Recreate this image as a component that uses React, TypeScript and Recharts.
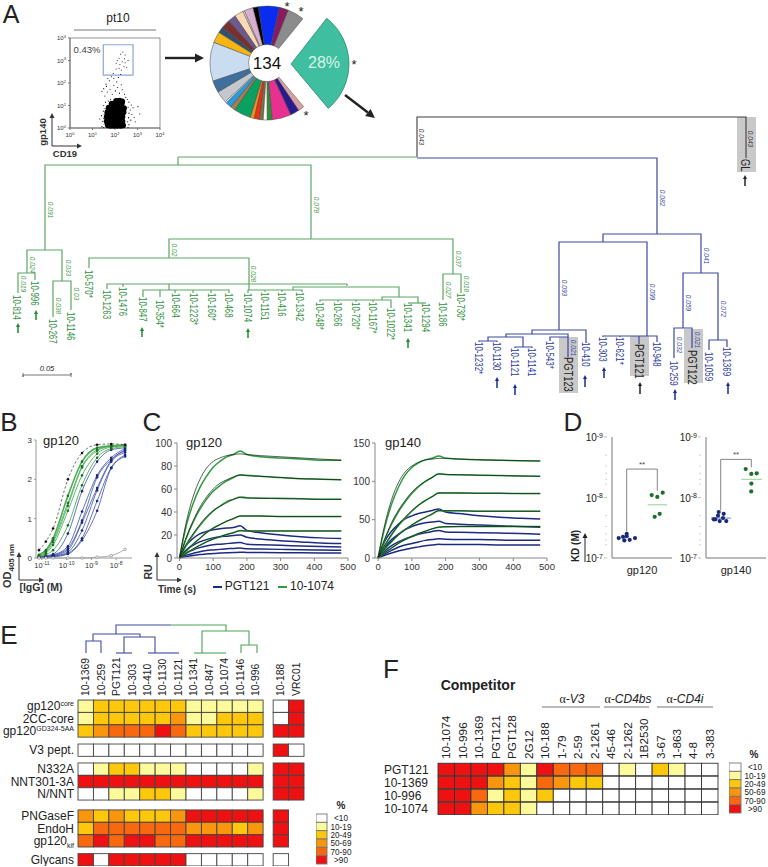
import {
  Cell,
  ComposedChart,
  Line,
  Pie,
  PieChart,
  ReferenceArea,
  Scatter,
  ScatterChart,
  XAxis,
  YAxis,
} from "recharts";

const FONT = "'Liberation Sans', Arial, sans-serif";

// ---------- panel A: flow plot ----------
const flowCore = [
  [1.68, 0.12], [1.8, 0.1], [1.95, 0.1], [2.1, 0.1], [2.25, 0.1], [2.36, 0.12],
  [1.63, 0.3], [1.75, 0.3], [1.9, 0.3], [2.05, 0.3], [2.2, 0.3], [2.33, 0.3],
  [1.63, 0.5], [1.75, 0.5], [1.9, 0.5], [2.05, 0.5], [2.2, 0.5], [2.33, 0.5],
  [1.66, 0.7], [1.8, 0.7], [1.95, 0.7], [2.1, 0.7], [2.25, 0.7], [2.38, 0.7],
  [1.72, 0.9], [1.85, 0.9], [2, 0.9], [2.15, 0.9], [2.3, 0.9], [2.4, 0.88],
  [1.85, 1.08], [2, 1.1], [2.15, 1.1], [2.3, 1.08], [2.05, 1.2], [2.2, 1.22], [2.32, 1.18],
];
const flowFringe = [
  [1.42, 0.06], [1.45, 0.3], [1.4, 0.55], [1.48, 0.75], [1.5, 1.0], [1.58, 1.15], [1.7, 1.2], [1.8, 1.28],
  [2.62, 0.15], [2.7, 0.35], [2.75, 0.6], [2.68, 0.8], [2.72, 1.02], [2.62, 1.15], [2.55, 1.28], [2.48, 1.36],
  [2.85, 0.48], [2.58, 0.02], [1.5, 0.02], [2.8, 0.9], [3.02, 0.95], [3.1, 0.62], [2.9, 0.28], [1.32, 0.4],
  [1.52, 0.18], [1.5, 0.42], [1.52, 0.62], [1.56, 0.86], [2.56, 0.28], [2.6, 0.46], [2.62, 0.66], [2.58, 0.92],
  [1.55, 1.42], [1.66, 1.6], [1.5, 1.75], [1.62, 1.85], [1.78, 1.72], [1.88, 1.5], [1.95, 1.9], [2.02, 1.65],
  [2.12, 1.8], [2.08, 2.05], [1.75, 2.1], [1.68, 2.2], [1.85, 2.28], [2.15, 2.25], [2.2, 1.55], [2.28, 1.92],
  [1.95, 2.2], [2.25, 2.38], [1.92, 2.42], [1.6, 1.95], [1.42, 1.62], [2.32, 1.7], [2.42, 1.5],
];
const flowGated = [
  [2.25, 3.28], [2.18, 3.1], [2.45, 3.25], [2.42, 3.08], [2.32, 2.95], [2.58, 3.0], [2.35, 3.38],
  [2.05, 2.88], [2.22, 2.82], [2.4, 2.72], [2.52, 2.7], [2.18, 2.66], [2.05, 2.62], [2.28, 2.58],
  [2.45, 2.9], [2.1, 3.0],
];
const flowTicks = [0, 1, 2, 3, 4];

// ---------- panel A: clonal pie ----------
const pieSlices = [
  { name: "gray", value: 17, color: "#8c8c8c" },
  { name: "plum", value: 9, color: "#8a1a5e" },
  { name: "blue", value: 21, color: "#0a2cf0" },
  { name: "black", value: 5.5, color: "#000000" },
  { name: "mauve", value: 9, color: "#d8afd0" },
  { name: "white1", value: 1.5, color: "#ffffff" },
  { name: "peach", value: 9, color: "#fbd9b5" },
  { name: "purple", value: 8, color: "#6b5a8f" },
  { name: "maroon", value: 9, color: "#7a3030" },
  { name: "slate", value: 6, color: "#2f5070" },
  { name: "amber", value: 11, color: "#f7b514" },
  { name: "pale blue", value: 39, color: "#c9dcf0" },
  { name: "steel", value: 12, color: "#3f6f9f" },
  { name: "silver", value: 12, color: "#c4c8cc" },
  { name: "white2", value: 1.5, color: "#ffffff" },
  { name: "sky", value: 6, color: "#2a9be0" },
  { name: "tan", value: 5, color: "#a08050" },
  { name: "green", value: 17, color: "#0aa060" },
  { name: "orange", value: 4, color: "#f09020" },
  { name: "vermilion", value: 5, color: "#f03010" },
  { name: "olive", value: 4, color: "#807040" },
  { name: "white3", value: 4, color: "#ffffff" },
  { name: "leaf", value: 5, color: "#2a9030" },
  { name: "pink", value: 19, color: "#e83090" },
  { name: "indigo", value: 9, color: "#2a1a90" },
  { name: "rose", value: 6, color: "#d8a0a0" },
];
const pieMajor = [{ name: "major clone", value: 28 }];

// ---------- panel A: tree ----------
const rootPaths = [[[417, 157], [417, 117], [746, 117], [746, 158]]];
const greenPaths = [
  [[178, 157], [417, 157]],
  [[178, 157], [178, 165]],
  [[45, 250], [45, 165], [311, 165], [311, 239]],
  [[27, 273], [27, 250], [62, 250], [62, 281]],
  [[18, 293], [18, 273], [35, 273], [35, 280]],
  [[53, 317], [53, 281], [71, 281], [71, 310]],
  [[169, 258], [169, 239], [453, 239], [453, 274]],
  [[89, 268], [89, 258], [249, 258], [249, 290]],
  [[107, 289], [107, 284], [347, 284], [347, 286]],
  [[123, 287], [123, 284]],
  [[169, 284], [169, 290]],
  [[143, 297], [143, 290], [229, 290], [229, 293]],
  [[160, 297], [160, 290]],
  [[175, 293], [175, 290]],
  [[193, 293], [193, 290]],
  [[211, 293], [211, 290]],
  [[248, 293], [248, 290], [302, 290], [302, 292]],
  [[265, 292], [265, 290]],
  [[282, 292], [282, 290]],
  [[293, 290], [293, 287], [399, 287], [399, 297]],
  [[382, 300], [382, 297], [418, 297], [418, 303]],
  [[320, 302], [320, 300], [391, 300], [391, 308]],
  [[338, 302], [338, 300]],
  [[356, 302], [356, 300]],
  [[373, 302], [373, 300]],
  [[408, 303], [426, 303]],
  [[443, 300], [443, 274], [461, 274], [461, 293]],
];
const bluePaths = [
  [[417, 158], [657, 158], [657, 234]],
  [[603, 242], [603, 234], [701, 234], [701, 273]],
  [[559, 330], [559, 242], [647, 242], [647, 336]],
  [[532, 334], [532, 330], [586, 330], [586, 343]],
  [[506, 337], [506, 334], [568, 334], [568, 337]],
  [[488, 341], [488, 337], [523, 337], [523, 347]],
  [[479, 342], [479, 341], [497, 341], [497, 342]],
  [[515, 348], [515, 347], [532, 347], [532, 348]],
  [[550, 341], [550, 337], [568, 337], [568, 357]],
  [[603, 337], [603, 336], [657, 336], [657, 342]],
  [[620, 337], [620, 336]],
  [[639, 344], [639, 336]],
  [[683, 328], [683, 273], [718, 273], [718, 340]],
  [[674, 358], [674, 328], [692, 328], [692, 348]],
  [[709, 350], [709, 340], [727, 340], [727, 347]],
];
// the small tree above the panel E heat map
const heatBluePaths = [
  [[171, 625], [116, 625], [116, 634]],
  [[93, 641], [93, 634], [140, 634], [140, 637]],
  [[86, 653], [86, 641], [101, 641], [101, 653]],
  [[124, 653], [124, 637], [155, 637], [155, 653]],
  [[116, 653], [132, 653]],
  [[148, 653], [179, 653]],
];
const heatGreenPaths = [
  [[171, 625], [226, 625], [226, 631]],
  [[202, 653], [202, 631], [249, 631], [249, 645]],
  [[194, 653], [226, 653]],
  [[241, 653], [241, 645], [257, 645], [257, 653]],
];
const ruleLines = [
  [[74, 30], [156, 30]],
  [[23, 373], [23, 377], [23, 375], [71, 375], [71, 373], [71, 377]],
  [[542, 707], [600, 707]],
  [[604, 707], [649, 707]],
  [[657, 707], [713, 707]],
];
const treeBoxes = [
  { x1: 737, x2: 756, y1: 117, y2: 172 },
  { x1: 559, x2: 578, y1: 337, y2: 393 },
  { x1: 630, x2: 649, y1: 336, y2: 376 },
  { x1: 684, x2: 703, y1: 329, y2: 383 },
];
const greenTips = [
  { x: 17, y: 295, t: "10-814" }, { x: 35, y: 281, t: "10-996" }, { x: 53, y: 319, t: "10-267" },
  { x: 71, y: 312, t: "10-1146" }, { x: 89, y: 270, t: "10-570*" }, { x: 107, y: 290, t: "10-1263" },
  { x: 123, y: 287, t: "10-1476" }, { x: 143, y: 297, t: "10-847" }, { x: 160, y: 300, t: "10-354*" },
  { x: 176, y: 293, t: "10-664" }, { x: 194, y: 293, t: "10-1223*" }, { x: 212, y: 293, t: "10-160*" },
  { x: 229, y: 293, t: "10-468" }, { x: 248, y: 293, t: "10-1074" }, { x: 265, y: 292, t: "10-1151" },
  { x: 282, y: 292, t: "10-416" }, { x: 300, y: 292, t: "10-1342" }, { x: 320, y: 302, t: "10-248*" },
  { x: 338, y: 302, t: "10-266" }, { x: 356, y: 302, t: "10-720*" }, { x: 373, y: 302, t: "10-1167*" },
  { x: 391, y: 308, t: "10-1022*" }, { x: 408, y: 303, t: "10-1341" }, { x: 426, y: 303, t: "10-1294" },
  { x: 443, y: 302, t: "10-186" }, { x: 461, y: 293, t: "10-730*" },
];
const blueTips = [
  { x: 479, y: 342, t: "10-1232*" }, { x: 497, y: 342, t: "10-1130" }, { x: 515, y: 348, t: "10-1121" },
  { x: 532, y: 348, t: "10-1141" }, { x: 550, y: 341, t: "10-543*" }, { x: 586, y: 342, t: "10-410" },
  { x: 603, y: 337, t: "10-303" }, { x: 620, y: 337, t: "10-621*" }, { x: 657, y: 342, t: "10-948" },
  { x: 674, y: 361, t: "10-259" }, { x: 709, y: 352, t: "10-1059" }, { x: 727, y: 347, t: "10-1369" },
];
const refTips = [
  { x: 568, y: 357, t: "PGT123" }, { x: 639, y: 344, t: "PGT121" }, { x: 692, y: 350, t: "PGT122" },
  { x: 745, y: 159, t: "GL" },
];
const greenBranchLabels = [
  { x: 50, y: 210, t: "0.091" }, { x: 316, y: 205, t: "0.078" }, { x: 32, y: 265, t: "0.024" },
  { x: 23, y: 284, t: "0.019" }, { x: 68, y: 268, t: "0.033" }, { x: 58, y: 306, t: "0.038" },
  { x: 76, y: 294, t: "0.03" }, { x: 174, y: 250, t: "0.02" }, { x: 253, y: 274, t: "0.028" },
  { x: 458, y: 259, t: "0.037" }, { x: 448, y: 290, t: "0.027" }, { x: 466, y: 284, t: "0.018" },
];
const blueBranchLabels = [
  { x: 662, y: 198, t: "0.082" }, { x: 706, y: 256, t: "0.041" }, { x: 564, y: 288, t: "0.093" },
  { x: 652, y: 292, t: "0.099" }, { x: 688, y: 303, t: "0.059" }, { x: 723, y: 309, t: "0.072" },
  { x: 679, y: 345, t: "0.032" }, { x: 697, y: 340, t: "0.021" }, { x: 573, y: 348, t: "0.021" },
];
const blackBranchLabels = [
  { x: 421, y: 137, t: "0.043" }, { x: 750, y: 139, t: "0.043" },
];
const arrows = [
  { x: 204, y: 58, dx: -39, dy: 0, c: "#222", w: 2.4, h: 9 },
  { x: 375, y: 118, dx: -30, dy: -23, c: "#222", w: 2.4, h: 9 },
  { x: 52, y: 113, dx: 0, dy: 33, c: "#333", w: 1, h: 5 },
  { x: 82, y: 146, dx: -30, dy: 0, c: "#333", w: 1, h: 5 },
  { x: 19, y: 552, dx: 0, dy: 28, c: "#333", w: 1, h: 5 },
  { x: 44, y: 580, dx: -25, dy: 0, c: "#333", w: 1, h: 5 },
  { x: 157, y: 552, dx: 0, dy: 28, c: "#333", w: 1, h: 5 },
  { x: 182, y: 580, dx: -25, dy: 0, c: "#333", w: 1, h: 5 },
  { x: 585, y: 533, dx: 0, dy: 29, c: "#222", w: 1, h: 5 },
  { x: 18, y: 323, dx: 0, dy: 10, c: "#1f8a30", w: 1.5, h: 4 },
  { x: 36, y: 310, dx: 0, dy: 10, c: "#1f8a30", w: 1.5, h: 4 },
  { x: 142, y: 327, dx: 0, dy: 10, c: "#1f8a30", w: 1.5, h: 4 },
  { x: 248, y: 328, dx: 0, dy: 10, c: "#1f8a30", w: 1.5, h: 4 },
  { x: 408, y: 338, dx: 0, dy: 10, c: "#1f8a30", w: 1.5, h: 4 },
  { x: 497, y: 377, dx: 0, dy: 11, c: "#1a2a8a", w: 1.5, h: 4 },
  { x: 515, y: 384, dx: 0, dy: 11, c: "#1a2a8a", w: 1.5, h: 4 },
  { x: 585, y: 375, dx: 0, dy: 12, c: "#1a2a8a", w: 1.5, h: 4 },
  { x: 604, y: 367, dx: 0, dy: 11, c: "#1a2a8a", w: 1.5, h: 4 },
  { x: 640, y: 382, dx: 0, dy: 12, c: "#222", w: 1.5, h: 4 },
  { x: 675, y: 389, dx: 0, dy: 11, c: "#1a2a8a", w: 1.5, h: 4 },
  { x: 728, y: 382, dx: 0, dy: 12, c: "#1a2a8a", w: 1.5, h: 4 },
  { x: 745, y: 175, dx: 0, dy: 11, c: "#222", w: 1.5, h: 4 },
];

// ---------- panel B: ELISA ----------
const elisaConc = [-11.12, -10.84, -10.55, -9.95, -9.38, -8.77, -8.2, -7.64];
const elisaBlack = [0.2, 0.42, 0.75, 2.0, 2.67, 2.88, 2.9, 2.88];
const elisaGreen = [
  [0.08, 0.2, 0.5, 1.58, 2.45, 2.8, 2.85, 2.87],
  [0.07, 0.18, 0.45, 1.4, 2.33, 2.75, 2.85, 2.87],
  [0.06, 0.15, 0.4, 1.33, 2.3, 2.72, 2.84, 2.86],
  [0.05, 0.12, 0.33, 1.2, 2.1, 2.65, 2.82, 2.85],
  [0.04, 0.09, 0.2, 0.83, 1.85, 2.55, 2.78, 2.83],
];
const elisaBlue = [
  [0.03, 0.06, 0.1, 0.62, 1.7, 2.45, 2.75, 2.8],
  [0.02, 0.04, 0.08, 0.3, 1.18, 2.1, 2.55, 2.78],
  [0.02, 0.04, 0.07, 0.25, 0.95, 2.05, 2.5, 2.75],
  [0.02, 0.03, 0.06, 0.2, 0.9, 1.78, 2.48, 2.72],
  [0.01, 0.03, 0.05, 0.15, 0.7, 1.72, 2.45, 2.68],
  [0.01, 0.02, 0.04, 0.12, 0.5, 1.45, 2.3, 2.62],
  [0.01, 0.02, 0.03, 0.1, 0.45, 1.2, 2.28, 2.58],
];
const elisaGray = [0, 0, 0, 0, 0, 0.02, 0.06, 0.22];

// ---------- panel C: sensorgrams ----------
const times = [0, 20, 40, 60, 80, 100, 120, 140, 160, 180, 200, 240, 300, 360, 420, 480];
const gp120Blue = [
  [0, 11, 17, 21, 23, 24.5, 25.5, 26, 26.5, 28, 24, 22, 20, 18.5, 17.5, 17],
  [0, 7, 11, 14, 16, 17.5, 18.5, 19, 19.5, 20, 18, 16.5, 15, 14, 13, 12.5],
  [0, 4.5, 7, 9, 10.5, 11.5, 12, 12.5, 13, 13.5, 12, 11.5, 11, 10.5, 10, 9.5],
  [0, 2.5, 4, 5.5, 6.5, 7, 7.5, 8, 8.3, 8.7, 8, 7.8, 7.5, 7.2, 7, 6.7],
  [0, 1.2, 2.2, 3, 3.5, 4, 4.3, 4.6, 4.8, 5, 4.8, 4.7, 4.6, 4.5, 4.4, 4.3],
];
const gp120Green = [
  [0, 28, 47, 61, 71, 79, 84, 88, 90, 93, 90, 88, 87, 86, 85, 85],
  [0, 17, 31, 42, 51, 58, 63, 67, 70, 72.5, 72, 71, 70, 69, 68.5, 68],
  [0, 11, 20, 28, 35, 41, 45, 49, 51, 53, 52.5, 52, 52, 51.5, 51, 51],
  [0, 6, 12, 17, 22, 26, 29, 32, 34, 36.5, 36.5, 36.5, 36, 36, 36, 36],
  [0, 4, 7.5, 11, 14, 16.5, 18.5, 20.5, 22, 24, 23.5, 23.5, 23.5, 23.5, 23.5, 23.5],
];
const gp120Fit = [
  [0, 31, 53, 68, 78, 84, 87, 89, 90, 90.5, 90, 89, 88, 87, 86, 85],
  [0, 18, 32, 44, 53, 60, 65, 68, 70.5, 72, 71.5, 71, 70, 69, 68.5, 68],
  [0, 12, 21, 29, 36, 41, 45, 48, 51, 52.5, 52, 52, 51.5, 51.5, 51, 51],
  [0, 6.5, 12, 17, 22, 26, 29, 32, 34.5, 36.5, 36.5, 36.5, 36, 36, 36, 36],
  [0, 4, 8, 11, 14, 16.5, 18.5, 20.5, 22, 23.5, 23.5, 23.5, 23.5, 23.5, 23.5, 23.5],
];
const gp140Blue = [
  [0, 22, 35, 44, 51, 55, 58, 60, 62, 64, 60, 58, 55, 53, 52, 51],
  [0, 14, 24, 31, 37, 41, 44, 46, 47, 48, 45, 44, 43, 42, 41, 40],
  [0, 9, 16, 21, 25, 28, 31, 33, 34.5, 36, 34, 33.5, 33, 32.5, 32, 31],
  [0, 5.5, 10, 14, 17, 19, 21, 23, 24, 25, 24.5, 24, 24, 23.5, 23, 23],
  [0, 3.5, 6.5, 9, 11, 13, 14.5, 16, 17, 18, 17.5, 17.5, 17.5, 17, 17, 17],
];
const gp140Green = [
  [0, 40, 70, 92, 108, 118, 124, 128, 130, 133, 130, 129, 128, 127.5, 127, 126.5],
  [0, 24, 44, 60, 73, 84, 93, 100, 105, 110, 109, 108.5, 108, 107.5, 107, 106.5],
  [0, 16, 30, 42, 52, 61, 69, 75, 80, 85, 85, 85, 84.5, 84.5, 84, 84],
  [0, 12, 21, 30, 37, 43, 48, 53, 57, 62, 61.5, 61.5, 61, 61, 61, 61],
  [0, 7, 13, 19, 24, 28, 32, 35, 38, 40, 40.5, 41, 41, 41, 41, 41],
];
const gp140Fit = [
  [0, 44, 76, 98, 112, 120, 125, 128, 129, 130, 130, 129, 128, 127.5, 127, 126.5],
  [0, 25, 46, 62, 75, 86, 94, 100, 105, 109.5, 109, 108.5, 108, 107.5, 107, 106.5],
  [0, 17, 31, 43, 53, 62, 69, 75, 80, 84.5, 84.5, 84.5, 84.5, 84.5, 84, 84],
  [0, 12, 22, 30, 37, 43, 49, 53, 58, 61.5, 61.5, 61.5, 61, 61, 61, 61],
  [0, 7, 13, 19, 24, 28, 32, 35, 38, 40.5, 41, 41, 41, 41, 41, 41],
];

// ---------- panel D: KD ----------
const kdMinor = [-8.7, -8.52, -8.4, -8.3, -8.22, -7.7, -7.52, -7.4, -7.3, -7.22];
const kd120Blue = [
  { x: 6.7, y: -7.33 }, { x: 11, y: -7.35 }, { x: 14.7, y: -7.4 }, { x: 14.7, y: -7.36 },
  { x: 17.7, y: -7.3 }, { x: 23, y: -7.33 }, { x: 12.3, y: -7.29 },
];
const kd120Green = [
  { x: 39.7, y: -8.04 }, { x: 45.3, y: -8.01 }, { x: 50.7, y: -8.08 }, { x: 42.7, y: -7.68 }, { x: 47.7, y: -7.73 },
];
const kd120GreenMean = [{ x: 35.7, y: -7.88 }, { x: 55, y: -7.88 }];
const kd120Bracket = [{ x: 14.7, y: -7.44 }, { x: 14.7, y: -8.47 }, { x: 45.3, y: -8.47 }, { x: 45.3, y: -8.11 }];
const kd140Blue = [
  { x: 7.7, y: -7.64 }, { x: 9.3, y: -7.64 }, { x: 12, y: -7.7 }, { x: 12.7, y: -7.76 },
  { x: 17.7, y: -7.73 }, { x: 13.7, y: -7.61 }, { x: 17, y: -7.66 }, { x: 20.3, y: -7.61 },
];
const kd140Green = [
  { x: 39.7, y: -8.47 }, { x: 45.3, y: -8.39 }, { x: 50.7, y: -8.4 }, { x: 45.4, y: -8.23 }, { x: 45.2, y: -8.1 },
];
const kd140GreenMean = [{ x: 35.3, y: -8.3 }, { x: 56, y: -8.3 }];
const kd140BlueMean = [{ x: 5, y: -7.66 }, { x: 25, y: -7.66 }];
const kd140Bracket = [{ x: 14.7, y: -7.79 }, { x: 14.7, y: -8.63 }, { x: 45.3, y: -8.63 }, { x: 45.3, y: -8.5 }];

// ---------- panels E, F: heat maps ----------
const levelColors = ["#ffffff", "#fdfa9c", "#fdc70c", "#f9960e", "#f8680e", "#ee1111"];
const levelNames = ["<10", "10-19", "20-49", "50-69", "70-90", ">90"];

const heatColumns = ["10-1369", "10-259", "PGT121", "10-303", "10-410", "10-1130", "10-1121", "10-1341", "10-847", "10-1074", "10-1146", "10-996", "10-188", "VRC01"];
const heatColumnStart = [0, 1, 2, 3, 4, 5, 6, 7, 8, 9, 10, 11, 12.65, 13.65];
const heatRowTop = [0, 1, 2, 3.55, 5.08, 6.08, 7.08, 8.87, 9.87, 10.87, 12.4];
const heatRows = ["gp120core", "2CC-core", "gp120GD", "V3 pept.", "N332A", "NNT301-3A", "N/NNT", "PNGaseF", "EndoH", "gp120kif", "Glycans"];
const heatValues = [
  [1, 2, 2, 2, 2, 2, 2, 1, 1, 1, 1, 1, 0, 5],
  [1, 2, 2, 2, 2, 2, 3, 1, 1, 2, 2, 2, 0, 5],
  [2, 3, 4, 4, 4, 5, 4, 2, 2, 2, 2, 2, 5, 5],
  [0, 0, 0, 0, 0, 0, 0, 0, 0, 0, 0, 0, 5, 0],
  [0, 1, 2, 2, 1, 1, 1, 0, 0, 0, 0, 1, 5, 5],
  [5, 5, 5, 5, 5, 5, 5, 5, 5, 5, 5, 5, 5, 5],
  [0, 0, 1, 1, 2, 2, 1, 0, 0, 0, 0, 1, 5, 5],
  [3, 2, 3, 2, 2, 2, 3, 5, 5, 5, 5, 5, 5, -1],
  [2, 4, 4, 4, 4, 4, 4, 3, 3, 3, 2, 3, 5, -1],
  [4, 5, 4, 5, 5, 4, 4, 5, 5, 5, 5, 5, 5, -1],
  [5, 0, 5, 5, 5, 5, 5, 0, 0, 0, 0, 0, 0, -1],
];
const compColumns = ["10-1074", "10-996", "10-1369", "PGT121", "PGT128", "2G12", "10-188", "1-79", "2-59", "2-1261", "45-46", "2-1262", "1B2530", "3-67", "1-863", "4-8", "3-383"];
const compRows = ["PGT121", "10-1369", "10-996", "10-1074"];
const compValues = [
  [5, 5, 5, 5, 3, 1, 5, 4, 4, 4, 0, 1, 0, 2, 1, 0, 0],
  [5, 5, 5, 3, 2, 1, 4, 3, 2, 2, 0, 0, 0, 0, 0, 0, 0],
  [5, 5, 4, 1, 2, 1, 2, 0, 0, 0, 0, 0, 0, 0, 0, 0, 0],
  [5, 5, 3, 2, 2, 1, 0, 0, 0, 0, 0, 0, 0, 0, 0, 0, 0],
];

const tableFrom = (xs: number[], prefix: string, rows: number[][]) =>
  xs.map((x, i) => {
    const row: Record<string, number> = { x };
    rows.forEach((r, k) => (row[`${prefix}${k}`] = r[i]));
    return row;
  });

const mergeRows = (...tables: Record<string, number>[][]) =>
  tables[0].map((_, i) => Object.assign({}, ...tables.map((t) => t[i])));

const pts = (p: number[][]) => p.map(([x, y]) => ({ x, y }));

function Txt({ x, y, size = 12, rot = 0, bold, italic, color = "#222", children }: any) {
  return (
    <div
      style={{
        position: "absolute",
        left: x,
        top: y,
        transform: `translate(-50%, -50%) rotate(${rot}deg)`,
        fontFamily: FONT,
        fontSize: size,
        lineHeight: 1,
        whiteSpace: "nowrap",
        fontWeight: bold ? 700 : 400,
        fontStyle: italic ? "italic" : "normal",
        color,
      }}
    >
      {children}
    </div>
  );
}

const noDot = () => <g />;

const PowerTick = ({ x, y, payload, size, anchor, axis }: any) => {
  const isY = axis === "y";
  return (
    <text
      x={x}
      y={isY ? y + size * 0.35 : y + size * 0.8}
      textAnchor={anchor}
      fontFamily={FONT}
      fontSize={size}
      fill="#333"
    >
      10
      <tspan dy={-size * 0.35} fontSize={size * 0.68}>
        {payload.value}
      </tspan>
    </text>
  );
};

function TipLabel({ cx, cy, payload, fill, size, squeeze }: any) {
  return (
    <text
      transform={`translate(${cx},${cy}) rotate(90) scale(${squeeze},1)`}
      dominantBaseline="central"
      fontFamily={FONT}
      fontSize={size}
      fill={fill}
    >
      {payload.t}
    </text>
  );
}

function BranchLabel({ cx, cy, payload, fill }: any) {
  return (
    <text
      transform={`translate(${cx},${cy}) rotate(90)`}
      textAnchor="middle"
      dominantBaseline="central"
      fontFamily={FONT}
      fontStyle="italic"
      fontSize={6.6}
      fill={fill}
    >
      {payload.t}
    </text>
  );
}

function ArrowMark({ cx, cy, payload }: any) {
  const { dx, dy, c, w, h } = payload;
  const len = Math.hypot(dx, dy);
  const ux = dx / len;
  const uy = dy / len;
  const bx = cx + ux * h;
  const by = cy + uy * h;
  const hw = h * 0.5;
  return (
    <g>
      <line x1={bx} y1={by} x2={cx + dx} y2={cy + dy} stroke={c} strokeWidth={w} />
      <polygon points={`${cx},${cy} ${bx - uy * hw},${by + ux * hw} ${bx + uy * hw},${by - ux * hw}`} fill={c} />
    </g>
  );
}

function Overlay() {
  const paths = (list: number[][][], stroke: string, width: number, key: string) =>
    list.map((p, i) => (
      <Scatter
        key={key + i}
        data={pts(p)}
        line={{ stroke, strokeWidth: width }}
        shape={noDot}
        isAnimationActive={false}
        legendType="none"
      />
    ));
  return (
    <div style={{ position: "absolute", left: 0, top: 0 }}>
      <ScatterChart width={768} height={867} margin={{ top: 0, right: 0, bottom: 0, left: 0 }}>
        <XAxis type="number" dataKey="x" domain={[0, 768]} hide />
        <YAxis type="number" dataKey="y" domain={[0, 867]} reversed hide />
        {treeBoxes.map((b, i) => (
          <ReferenceArea key={i} {...b} fill="#c9c9c9" fillOpacity={1} stroke="none" />
        ))}
        {paths(rootPaths, "#3c3c48", 1.1, "root")}
        {paths(greenPaths, "#5da566", 1.2, "green")}
        {paths(bluePaths, "#3d4a9e", 1.2, "blue")}
        {paths(heatBluePaths, "#3d4a9e", 1.1, "hb")}
        {paths(heatGreenPaths, "#4ea45a", 1.1, "hg")}
        {paths(ruleLines, "#666666", 0.9, "rule")}
        <Scatter data={greenTips} shape={<TipLabel fill="#2f8f3c" size={11} squeeze={0.72} />} isAnimationActive={false} />
        <Scatter data={blueTips} shape={<TipLabel fill="#2b3a9a" size={11} squeeze={0.72} />} isAnimationActive={false} />
        <Scatter data={refTips} shape={<TipLabel fill="#222222" size={12} squeeze={0.78} />} isAnimationActive={false} />
        <Scatter data={greenBranchLabels} shape={<BranchLabel fill="#3f9a4c" />} isAnimationActive={false} />
        <Scatter data={blueBranchLabels} shape={<BranchLabel fill="#3d4a9e" />} isAnimationActive={false} />
        <Scatter data={blackBranchLabels} shape={<BranchLabel fill="#333333" />} isAnimationActive={false} />
        <Scatter data={arrows} shape={<ArrowMark />} isAnimationActive={false} />
      </ScatterChart>
    </div>
  );
}

function FlowPlot() {
  const dot = (r: number) => (p: any) => <circle cx={p.cx} cy={p.cy} r={r} fill="#000" />;
  return (
    <div style={{ position: "absolute", left: 50, top: 30 }}>
      <ScatterChart width={122} height={112} margin={{ top: 8, right: 12, bottom: 0, left: 0 }}>
        <XAxis
          type="number"
          dataKey="x"
          domain={[0, 4]}
          ticks={flowTicks}
          height={14}
          stroke="#777"
          tickSize={2}
          interval={0}
          tick={<PowerTick size={6} anchor="middle" />}
        />
        <YAxis
          type="number"
          dataKey="y"
          domain={[0, 4]}
          ticks={flowTicks}
          width={20}
          stroke="#777"
          tickSize={2}
          interval={0}
          tick={<PowerTick size={6} anchor="end" axis="y" />}
        />
        <ReferenceArea x1={0} x2={4} y1={0} y2={4} fill="none" stroke="#777" strokeWidth={0.8} />
        <ReferenceArea x1={1.48} x2={2.8} y1={2.35} y2={3.7} fill="none" stroke="#8fa6d4" strokeWidth={1.2} />
        <Scatter data={pts(flowCore)} shape={dot(2.9)} isAnimationActive={false} />
        <Scatter data={pts(flowFringe)} shape={dot(0.55)} isAnimationActive={false} />
        <Scatter data={pts(flowGated)} shape={dot(0.5)} isAnimationActive={false} />
      </ScatterChart>
    </div>
  );
}

function ClonePie() {
  return (
    <div style={{ position: "absolute", left: 200, top: 0 }}>
      <PieChart width={170} height={130} margin={{ top: 0, right: 0, bottom: 0, left: 0 }}>
        <Pie
          data={pieSlices}
          dataKey="value"
          cx={67}
          cy={63}
          innerRadius={18.5}
          outerRadius={57}
          startAngle={51}
          endAngle={310}
          stroke="#444"
          strokeWidth={0.5}
          isAnimationActive={false}
        >
          {pieSlices.map((s) => (
            <Cell key={s.name} fill={s.color} />
          ))}
        </Pie>
        <Pie
          data={pieMajor}
          dataKey="value"
          cx={91}
          cy={64}
          innerRadius={0}
          outerRadius={58}
          startAngle={-50}
          endAngle={52}
          stroke="#2a7a68"
          strokeWidth={0.7}
          fill="#3fbf9f"
          isAnimationActive={false}
        />
      </PieChart>
    </div>
  );
}

function ElisaChart() {
  const data = mergeRows(
    tableFrom(elisaConc, "g", elisaGreen),
    tableFrom(elisaConc, "b", elisaBlue),
    tableFrom(elisaConc, "k", [elisaBlack]),
    tableFrom(elisaConc, "o", [elisaGray])
  );
  const dots = (fill: string, r = 1.3) => ({ r, fill, stroke: "none" });
  return (
    <div style={{ position: "absolute", left: 0, top: 434 }}>
      <ComposedChart width={142} height={142} data={data} margin={{ top: 6, right: 10, bottom: 0, left: 0 }}>
        <XAxis
          type="number"
          dataKey="x"
          domain={[-11.24, -7.36]}
          ticks={[-11, -10, -9, -8]}
          height={18}
          stroke="#999"
          tickSize={2}
          interval={0}
          tick={<PowerTick size={7.5} anchor="middle" />}
        />
        <YAxis
          type="number"
          domain={[0, 3]}
          ticks={[0, 1, 2, 3]}
          width={36}
          stroke="#999"
          tickSize={2}
          interval={0}
          tick={{ fontSize: 8, fill: "#333", fontFamily: FONT }}
        />
        {elisaBlue.map((_, i) => (
          <Line key={i} dataKey={`b${i}`} type="monotone" stroke="#3d4fa8" strokeWidth={0.8} dot={dots("#1a2a7a")} isAnimationActive={false} />
        ))}
        {elisaGreen.map((_, i) => (
          <Line key={i} dataKey={`g${i}`} type="monotone" stroke="#4fae5a" strokeWidth={i === 0 ? 1.6 : 0.9} dot={dots("#1f6e2a")} isAnimationActive={false} />
        ))}
        <Line dataKey="k0" type="monotone" stroke="#333" strokeWidth={0.7} strokeDasharray="2.5 2" dot={dots("#111")} isAnimationActive={false} />
        <Line dataKey="o0" type="monotone" stroke="#888" strokeWidth={0.7} dot={{ r: 1.3, fill: "#fff", stroke: "#777", strokeWidth: 0.6 }} isAnimationActive={false} />
      </ComposedChart>
    </div>
  );
}

function SensorChart({ left, plotLeft, width, xMin, yMax, yTicks, blue, green, fit }: any) {
  const data = mergeRows(tableFrom(times, "b", blue), tableFrom(times, "g", green), tableFrom(times, "f", fit));
  return (
    <div style={{ position: "absolute", left, top: 435 }}>
      <ComposedChart width={width + 12} height={139} data={data} margin={{ top: 8, right: 12, bottom: 0, left: 0 }}>
        <XAxis
          type="number"
          dataKey="x"
          domain={[xMin, 500]}
          ticks={[0, 100, 200, 300, 400, 500]}
          height={16}
          stroke="#888"
          tickSize={3}
          interval={0}
          tick={{ fontSize: 9.5, fill: "#333", fontFamily: FONT }}
        />
        <YAxis
          type="number"
          domain={[0, yMax]}
          ticks={yTicks}
          width={plotLeft}
          stroke="#888"
          tickSize={3}
          interval={0}
          tick={{ fontSize: 10, fill: "#333", fontFamily: FONT }}
        />
        {blue.map((_: any, i: number) => (
          <Line key={i} dataKey={`b${i}`} type="monotone" stroke="#1c2a80" strokeWidth={1.5} dot={false} isAnimationActive={false} />
        ))}
        {green.map((_: any, i: number) => (
          <Line key={i} dataKey={`g${i}`} type="monotone" stroke="#2e9a3e" strokeWidth={1.5} dot={false} isAnimationActive={false} />
        ))}
        {fit.map((_: any, i: number) => (
          <Line key={i} dataKey={`f${i}`} type="monotone" stroke="#0e1a14" strokeWidth={0.7} dot={false} isAnimationActive={false} />
        ))}
      </ComposedChart>
    </div>
  );
}

const KdTick = ({ x, y, payload }: any) => {
  const major = Number.isInteger(payload.value);
  return (
    <g>
      <line x1={x + 3} x2={x + 3 - (major ? 3 : 1.5)} y1={y} y2={y} stroke="#999" strokeWidth={0.6} />
      {major && (
        <text x={x - 1} y={y + 4} textAnchor="end" fontFamily={FONT} fontSize={10} fill="#222">
          10
          <tspan dy={-3.5} fontSize={7}>
            {payload.value}
          </tspan>
        </text>
      )}
    </g>
  );
};

function KdChart({ left, name, blue, green, means, bracket }: any) {
  const dot = (fill: string) => (p: any) => <circle cx={p.cx} cy={p.cy} r={2.1} fill={fill} />;
  return (
    <div style={{ position: "absolute", left, top: 429 }}>
      <ScatterChart width={87} height={149} margin={{ top: 8, right: 0, bottom: 0, left: 0 }}>
        <XAxis
          type="number"
          dataKey="x"
          domain={[0, 60]}
          ticks={[30]}
          height={20}
          stroke="#777"
          tickLine={false}
          tickFormatter={() => name}
          tick={{ fontSize: 11, fill: "#222", fontFamily: FONT }}
        />
        <YAxis
          type="number"
          dataKey="y"
          domain={[-9, -7]}
          reversed
          ticks={[-9, -8, -7, ...kdMinor]}
          width={27}
          stroke="#777"
          tickLine={false}
          interval={0}
          tick={<KdTick />}
        />
        <Scatter data={bracket} line={{ stroke: "#777", strokeWidth: 0.9 }} shape={noDot} isAnimationActive={false} />
        {means.map((m: any, i: number) => (
          <Scatter key={i} data={m.data} line={{ stroke: m.color, strokeWidth: 1.2 }} shape={noDot} isAnimationActive={false} />
        ))}
        <Scatter data={blue} shape={dot("#1a2a7a")} isAnimationActive={false} />
        <Scatter data={green} shape={dot("#1f6e2a")} isAnimationActive={false} />
      </ScatterChart>
    </div>
  );
}

function HeatCell({ cx, cy, payload, w, h, stroke }: any) {
  return (
    <rect
      x={cx - w / 2}
      y={cy - h / 2}
      width={w}
      height={h}
      fill={levelColors[payload.level]}
      stroke={stroke}
      strokeWidth={0.9}
    />
  );
}

const heatRowLabel = (name: string) => {
  if (name === "gp120core") return <>gp120<tspan dy={-4} fontSize={7}>core</tspan></>;
  if (name === "gp120GD") return <>gp120<tspan dy={-4} fontSize={7}>GD324-5AA</tspan></>;
  if (name === "gp120kif") return <>gp120<tspan dy={3} fontSize={7}>kif</tspan></>;
  return name;
};

function EpitopeHeat() {
  const cells = heatValues.flatMap((row, r) =>
    row.flatMap((level, c) =>
      level < 0 ? [] : [{ x: heatColumnStart[c] + 0.5, y: heatRowTop[r] + 0.5, level }]
    )
  );
  const colTicks = heatColumnStart.map((s) => s + 0.5);
  const rowTicks = heatRowTop.map((s) => s + 0.5);
  return (
    <div style={{ position: "absolute", left: 0, top: 654 }}>
      <ScatterChart width={306} height={212} margin={{ top: 0, right: 2, bottom: 0, left: 0 }}>
        <XAxis
          type="number"
          dataKey="x"
          orientation="top"
          domain={[0, 14.65]}
          ticks={colTicks}
          height={46}
          axisLine={false}
          tickLine={false}
          interval={0}
          tick={({ x, payload }: any) => (
            <text
              transform={`translate(${x + 3.6},42) rotate(-90)`}
              fontFamily={FONT}
              fontSize={10.4}
              fill="#222"
            >
              {heatColumns[colTicks.indexOf(payload.value)]}
            </text>
          )}
        />
        <YAxis
          type="number"
          dataKey="y"
          domain={[0, 13.4]}
          reversed
          ticks={rowTicks}
          width={78}
          axisLine={false}
          tickLine={false}
          interval={0}
          tick={({ y, payload }: any) => (
            <text x={74} y={y + 4.3} textAnchor="end" fontFamily={FONT} fontSize={12} fill="#222">
              {heatRowLabel(heatRows[rowTicks.indexOf(payload.value)])}
            </text>
          )}
        />
        <Scatter data={cells} shape={<HeatCell w={15.4} h={12.3} stroke="#444" />} isAnimationActive={false} />
      </ScatterChart>
    </div>
  );
}

function CompetitionHeat() {
  const cells = compValues.flatMap((row, r) => row.map((level, c) => ({ x: c + 0.5, y: r + 0.5, level })));
  const colTicks = compColumns.map((_, i) => i + 0.5);
  const rowTicks = compRows.map((_, i) => i + 0.5);
  return (
    <div style={{ position: "absolute", left: 376, top: 711 }}>
      <ScatterChart width={344} height={104} margin={{ top: 0, right: 2, bottom: 0, left: 0 }}>
        <XAxis
          type="number"
          dataKey="x"
          orientation="top"
          domain={[0, 17]}
          ticks={colTicks}
          height={52}
          axisLine={false}
          tickLine={false}
          interval={0}
          tick={({ x, payload }: any) => (
            <text
              transform={`translate(${x + 4.2},48) rotate(-90)`}
              fontFamily={FONT}
              fontSize={11.8}
              fill="#222"
            >
              {compColumns[colTicks.indexOf(payload.value)]}
            </text>
          )}
        />
        <YAxis
          type="number"
          dataKey="y"
          domain={[0, 4]}
          reversed
          ticks={rowTicks}
          width={62}
          axisLine={false}
          tickLine={false}
          interval={0}
          tick={({ y, payload }: any) => (
            <text x={8} y={y + 4.5} fontFamily={FONT} fontSize={12} fill="#222">
              {compRows[rowTicks.indexOf(payload.value)]}
            </text>
          )}
        />
        <Scatter data={cells} shape={<HeatCell w={16.47} h={12.5} stroke="#333" />} isAnimationActive={false} />
      </ScatterChart>
    </div>
  );
}

function HeatKey({ left, top, w, h }: any) {
  const cells = levelNames.map((_, i) => ({ x: 0.5, y: i + 0.5, level: i }));
  const ticks = levelNames.map((_, i) => i + 0.5);
  return (
    <div style={{ position: "absolute", left, top }}>
      <ScatterChart width={w + 26} height={h + 2} margin={{ top: 1, right: 0, bottom: 1, left: 0 }}>
        <XAxis type="number" dataKey="x" domain={[0, 1]} hide />
        <YAxis
          type="number"
          dataKey="y"
          domain={[0, 6]}
          reversed
          orientation="right"
          ticks={ticks}
          width={26}
          axisLine={false}
          tickLine={false}
          interval={0}
          tick={({ y, payload }: any) => (
            <text x={w + 14} y={y + 3} textAnchor="middle" fontFamily={FONT} fontSize={8.2} fill="#222">
              {levelNames[ticks.indexOf(payload.value)]}
            </text>
          )}
        />
        <Scatter data={cells} shape={<HeatCell w={w} h={h / 6} stroke="#777" />} isAnimationActive={false} />
      </ScatterChart>
    </div>
  );
}

const LegendDash = ({ x, color }: any) => (
  <div style={{ position: "absolute", left: x, top: 586, width: 9, height: 2, background: color }} />
);

const Alpha = () => <span style={{ fontFamily: "'Liberation Serif', serif", fontStyle: "normal" }}>α</span>;

export default function App() {
  return (
    <div style={{ position: "absolute", left: 0, top: 0, width: 768, height: 867, overflow: "hidden", background: "#fff" }}>
      <FlowPlot />
      <ClonePie />
      <ElisaChart />
      <SensorChart left={150} plotLeft={27} width={198} xMin={-7.4} yMax={100} yTicks={[0, 20, 40, 60, 80, 100]} blue={gp120Blue} green={gp120Green} fit={gp120Fit} />
      <SensorChart left={350} plotLeft={25} width={197} xMin={-9} yMax={150} yTicks={[0, 50, 100, 150]} blue={gp140Blue} green={gp140Green} fit={gp140Fit} />
      <KdChart left={585} name="gp120" blue={kd120Blue} green={kd120Green} means={[{ data: kd120GreenMean, color: "#a5dba5" }]} bracket={kd120Bracket} />
      <KdChart left={679} name="gp140" blue={kd140Blue} green={kd140Green} means={[{ data: kd140GreenMean, color: "#a5dba5" }, { data: kd140BlueMean, color: "#8a94c8" }]} bracket={kd140Bracket} />
      <EpitopeHeat />
      <CompetitionHeat />
      <HeatKey left={316} top={813} w={11} h={50} />
      <HeatKey left={729} top={762} w={12} h={50} />
      <Overlay />

      <Txt x={11} y={14} size={25}>A</Txt>
      <Txt x={9} y={422} size={26}>B</Txt>
      <Txt x={152} y={422} size={26}>C</Txt>
      <Txt x={573} y={422} size={26}>D</Txt>
      <Txt x={9} y={635} size={26}>E</Txt>
      <Txt x={391} y={669} size={26}>F</Txt>

      <Txt x={118} y={18} size={12}>pt10</Txt>
      <Txt x={87} y={50} size={9.5} color="#444">0.43%</Txt>
      <Txt x={43} y={132} size={9.5} rot={-90} bold color="#333">gp140</Txt>
      <Txt x={65} y={154} size={9.5} bold color="#333">CD19</Txt>
      <Txt x={267} y={63} size={17} color="#111">134</Txt>
      <Txt x={324} y={63} size={16} color="#d6f3e8">28%</Txt>
      <Txt x={287} y={6} size={13}>*</Txt>
      <Txt x={301} y={11} size={13}>*</Txt>
      <Txt x={354} y={64} size={13}>*</Txt>
      <Txt x={306} y={115} size={13}>*</Txt>
      <Txt x={47} y={369} size={7.5} italic>0.05</Txt>

      <Txt x={61} y={440} size={13}>gp120</Txt>
      <Txt x={9} y={566} size={11} rot={-90} bold color="#333">
        OD<sub style={{ fontSize: 8 }}>405 nm</sub>
      </Txt>
      <Txt x={41} y={587} size={10.5} bold color="#333">[IgG] (M)</Txt>

      <Txt x={204} y={442} size={13}>gp120</Txt>
      <Txt x={403} y={442} size={13}>gp140</Txt>
      <Txt x={148} y={572} size={10.5} bold color="#333" rot={-90}>RU</Txt>
      <Txt x={177} y={590} size={10} bold color="#333">Time (s)</Txt>
      <LegendDash x={213} color="#1c2a80" />
      <Txt x={247} y={586} size={12}>PGT121</Txt>
      <LegendDash x={278} color="#2e9a3e" />
      <Txt x={312} y={586} size={12}>10-1074</Txt>

      <Txt x={642} y={465} size={8} color="#444">**</Txt>
      <Txt x={736} y={455} size={8} color="#444">**</Txt>
      <Txt x={576} y={546} size={10} rot={-90} bold color="#222">KD (M)</Txt>

      <Txt x={341} y={806} size={10} bold>%</Txt>
      <Txt x={754} y={755} size={10} bold>%</Txt>

      <Txt x={478} y={685} size={14} bold>Competitor</Txt>
      <Txt x={572} y={699} size={12} italic><Alpha />-V3</Txt>
      <Txt x={628} y={699} size={12} italic><Alpha />-CD4bs</Txt>
      <Txt x={685} y={699} size={12} italic><Alpha />-CD4i</Txt>
    </div>
  );
}
